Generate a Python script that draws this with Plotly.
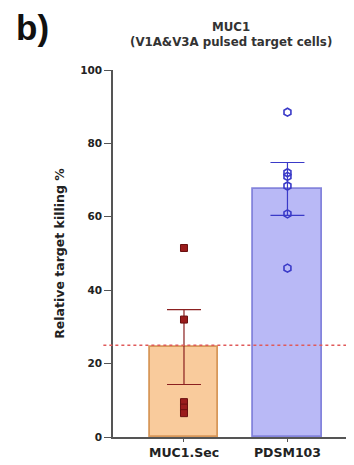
import plotly.graph_objects as go

categories = ["MUC1.Sec", "PDSM103"]
means = [24.5, 67.6]
sems = [10.2, 7.2]
points_sec = [51.5, 32.0, 9.5, 8.0, 6.5]
points_pdsm = [88.5, 72.0, 71.0, 68.4, 60.8, 46.0]
threshold = 25
y_ticks = [0, 20, 40, 60, 80, 100]

fill_colors = ["#F9CB9C", "#B9B9F6"]
line_colors = ["#D8985A", "#8484DC"]
err_colors = ["#8B2020", "#3A3AC8"]
text_font = "DejaVu Sans"

fig = go.Figure()
fig.add_trace(go.Bar(
    x=[0, 1], y=means, width=0.66,
    marker=dict(color=fill_colors, line=dict(color=line_colors, width=1.8)),
    showlegend=False,
))
for i, (m, s) in enumerate(zip(means, sems)):
    fig.add_trace(go.Scatter(
        x=[i], y=[m], mode="markers", marker=dict(size=1, color="rgba(0,0,0,0)"),
        error_y=dict(type="data", array=[s], color=err_colors[i], thickness=1.2, width=17),
        showlegend=False,
    ))
fig.add_trace(go.Scatter(
    x=[0] * len(points_sec), y=points_sec, mode="markers",
    marker=dict(symbol="square", size=7, color="#9A1C1C", line=dict(color="#6A1010", width=1)),
    showlegend=False,
))
fig.add_trace(go.Scatter(
    x=[1] * len(points_pdsm), y=points_pdsm, mode="markers",
    marker=dict(symbol="hexagon-open", size=8, color="#3A3AC8", line=dict(width=1.6)),
    showlegend=False,
))
fig.add_shape(type="line", xref="paper", yref="y", x0=-0.04, x1=1, y0=threshold, y1=threshold,
              line=dict(color="#E05A5A", width=1.5, dash="dot"))

fig.add_annotation(text="<b>b)</b>", xref="paper", yref="paper", x=-0.41, y=1.115, xanchor="left", yanchor="middle",
                   showarrow=False, font=dict(size=35, color="#111111", family="Arial, Liberation Sans"))
fig.add_annotation(text="<b>MUC1</b><br><b>(V1A&V3A pulsed target cells)</b>", xref="paper", yref="paper",
                   x=0.49, y=1.096, xanchor="center", yanchor="middle", showarrow=False,
                   font=dict(size=11.8, color="#333333", family=text_font))

fig.update_layout(
    width=346, height=457,
    margin=dict(l=105, r=0, t=62, b=28),
    paper_bgcolor="white", plot_bgcolor="white",
    font=dict(family=text_font, size=10, color="#333333"),
    bargap=0,
)
fig.update_xaxes(range=[-0.686, 1.643], tickvals=[0, 1], ticktext=categories, automargin=False,
                 showline=True, linecolor="#555555", linewidth=1.5, ticks="outside",
                 ticklen=3, tickcolor="#555555", showgrid=False, zeroline=False,
                 tickfont=dict(size=12.5, color="#222222", weight="bold", family=text_font))
fig.update_yaxes(range=[0, 100], tickvals=y_ticks, automargin=False, showline=True, linecolor="#555555",
                 linewidth=1.5, ticks="outside", ticklen=7, tickcolor="#555555",
                 showgrid=False, zeroline=False,
                 tickfont=dict(size=10.5, color="#222222", weight="bold", family=text_font),
                 title=dict(text="<b>Relative target killing %</b>",
                            font=dict(size=12.5, color="#222222", family=text_font), standoff=13))

fig.write_html("out.html")
